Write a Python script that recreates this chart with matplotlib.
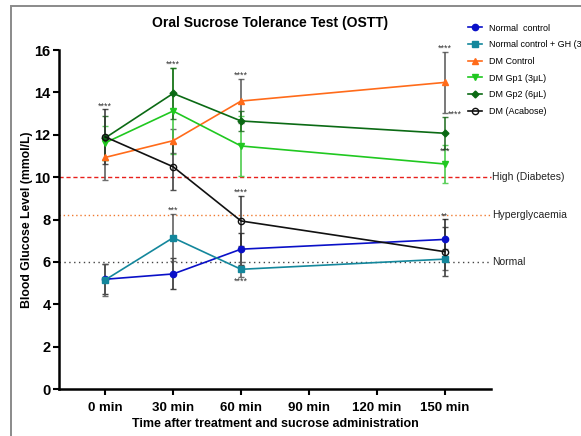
import matplotlib
matplotlib.use("Agg")
import matplotlib.pyplot as plt
from matplotlib.patches import Rectangle
import numpy as np

plt.rcParams["font.family"] = ["Liberation Sans", "DejaVu Sans"]

# ── data ──────────────────────────────────────────────────────────────────
time_labels = ["0 min", "30 min", "60 min", "90 min", "120 min", "150 min"]
sample_idx = [0, 1, 2, 5]          # time points actually measured

normal = [5.18, 5.43, 6.60, 7.06]
normal_err = [0.70, 0.73, 0.75, 0.95]
normal_gh = [5.15, 7.14, 5.65, 6.13]
normal_gh_err = [0.75, 1.10, 0.35, 0.50]
dm_control = [10.93, 11.72, 13.59, 14.47]
dm_control_err = [1.05, 0.56, 1.05, 1.42]
dm_gp1 = [11.62, 13.12, 11.47, 10.62]
dm_gp1_err = [0.80, 2.05, 1.40, 0.90]
dm_gp2 = [11.85, 13.95, 12.65, 12.07]
dm_gp2_err = [1.05, 1.20, 0.47, 0.75]
dm_acabose = [11.90, 10.49, 7.93, 6.48]
dm_acabose_err = [1.30, 1.10, 1.17, 1.15]

ref_levels = [10.0, 8.2, 6.0]
ref_names = ["High (Diabetes)", "Hyperglycaemia", "Normal"]

# significance stars: (x index, y value, text)
stars = [
    (0, 13.35, "****"), (1, 15.35, "****"), (2, 14.80, "****"),
    (5, 16.10, "****"), (5.15, 12.95, "****"), (5, 11.20, "***"),
    (1, 8.42, "***"), (2, 9.27, "****"), (2, 5.10, "****"), (5, 8.15, "**"),
]

# ── plotting ──────────────────────────────────────────────────────────────
fig = plt.figure(figsize=(5.81, 4.36), dpi=100)
fig.patch.set_facecolor("white")
fig.add_artist(Rectangle((11 / 581, -0.05), 1.0, 1 - 6 / 436 + 0.05,
                         transform=fig.transFigure, fill=False,
                         edgecolor="#8a8a8a", linewidth=1.4))

ax = fig.add_axes([59 / 581, 1 - 389 / 436, (491 - 59) / 581, (389 - 50) / 436])

series = [
    ("Normal  control", normal, normal_err, "#0a10c8", "o", "#0a10c8", "#222222"),
    ("Normal control + GH (3μL)", normal_gh, normal_gh_err, "#14879c", "s", "#14879c", "#555555"),
    ("DM Control", dm_control, dm_control_err, "#ff6b1a", "^", "#ff6b1a", "#555555"),
    ("DM Gp1 (3μL)", dm_gp1, dm_gp1_err, "#20c820", "v", "#20c820", "#40c840"),
    ("DM Gp2 (6μL)", dm_gp2, dm_gp2_err, "#0b6a14", "D", "#0b6a14", "#1d6a1d"),
    ("DM (Acabose)", dm_acabose, dm_acabose_err, "#111111", "o", "none", "#333333"),
]

handles = []
for label, y, e, col, mk, face, ecol in series:
    ax.errorbar(sample_idx, y, yerr=e, fmt="none", ecolor=ecol,
                elinewidth=1.3, capsize=2.5, capthick=1.0, alpha=0.85, zorder=2)
    ms = 3.5 if mk == "D" else 4.5
    h, = ax.plot(sample_idx, y, color=col, marker=mk, markersize=ms,
                 markerfacecolor=face, markeredgecolor=col, markeredgewidth=1.0,
                 linewidth=1.2, label=label, zorder=3)
    handles.append(h)

styles = [(0, (3, 2)), (0, (1, 2)), (0, (1, 2.5))]
colors = ["#e8201c", "#f07a30", "#444444"]
for lvl, name, ls, c in zip(ref_levels, ref_names, styles, colors):
    ax.plot([-0.68, 5.68], [lvl, lvl], linestyle=ls, color=c, linewidth=1.0,
            zorder=1, clip_on=False)
    ax.text(5.69, lvl, name, ha="left", va="center", fontsize=7.5,
            color="#222222", clip_on=False)

for x, yv, s in stars:
    ax.text(x, yv, s, ha="center", va="center", fontsize=6.5, color="#333333")

ax.set_xlim(-0.68, 5.68)
ax.set_ylim(0, 16)
ax.set_xticks(range(len(time_labels)))
ax.set_xticklabels(time_labels, fontsize=9.5, fontweight="bold")
ax.set_yticks(np.arange(0, 17, 2))
ax.set_yticklabels([str(v) for v in range(0, 17, 2)], fontsize=10.5,
                   fontweight="bold")
for side in ("top", "right"):
    ax.spines[side].set_visible(False)
for side in ("left", "bottom"):
    ax.spines[side].set_linewidth(1.8)
ax.tick_params(direction="out", length=4, width=1.5, pad=2)
ax.tick_params(axis="x", pad=5)

ax.set_ylabel("Blood Glucose Level (mmol/L)", fontsize=8.8, fontweight="bold",
              labelpad=1)
ax.set_xlabel("Time after treatment and sucrose administration", fontsize=9,
              fontweight="bold", labelpad=3)
fig.text(270 / 581, 1 - 23 / 436, "Oral Sucrose Tolerance Test (OSTT)",
         ha="center", va="center", fontsize=10, fontweight="bold")

# legend sits partly beyond the right edge, as in the reference
fig.legend(handles=handles, loc="upper left",
           bbox_to_anchor=(464 / 581, 1 - 20 / 436), frameon=False,
           fontsize=6.5, handlelength=1.6, labelspacing=0.85, borderaxespad=0,
           handletextpad=0.8)

fig.savefig("out.png", dpi=100)
